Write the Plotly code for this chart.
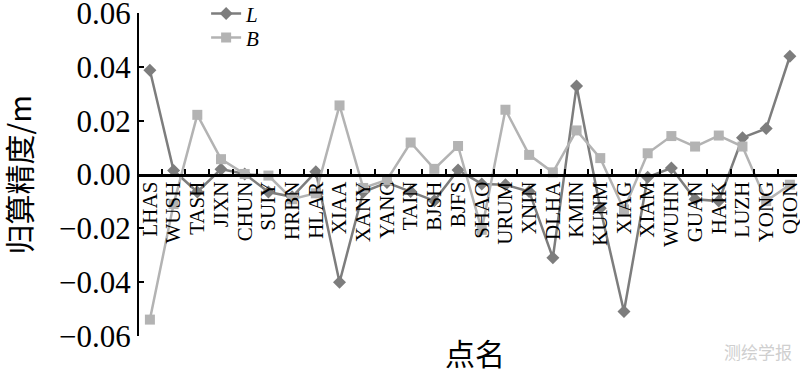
import plotly.graph_objects as go

stations = ["LHAS", "WUSH", "TASH", "JIXN", "CHUN", "SUIY", "HRBN", "HLAR", "XIAA", "XANY",
            "YANC", "TAIN", "BJSH", "BJFS", "SHAO", "URUM", "XNIN", "DLHA", "KMIN", "KUNM",
            "XIAG", "XIAM", "WUHN", "GUAN", "HAIK", "LUZH", "YONG", "QION"]
L_vals = [0.0388, 0.0015, -0.0065, 0.0020, 0.0002, -0.0065, -0.0083, 0.0010, -0.0401, -0.0065,
          -0.0030, -0.0063, -0.0098, 0.0017, -0.0035, -0.0038, -0.0063, -0.0310, 0.0329, -0.0126,
          -0.0510, -0.0010, 0.0024, -0.0092, -0.0099, 0.0137, 0.0171, 0.0440]
B_vals = [-0.0540, -0.0110, 0.0222, 0.0057, 0.0002, -0.0004, -0.0092, -0.0070, 0.0257, -0.0050,
          -0.0020, 0.0119, 0.0021, 0.0106, -0.0206, 0.0241, 0.0073, 0.0008, 0.0164, 0.0061,
          -0.0130, 0.0079, 0.0143, 0.0104, 0.0145, 0.0104, -0.0099, -0.0038]
y_ticks = [0.06, 0.04, 0.02, 0.0, -0.02, -0.04, -0.06]
y_ticklabels = ["0.06", "0.04", "0.02", "0.00", "\u22120.02", "\u22120.04", "\u22120.06"]

SERIF = "Liberation Serif"
CJK = "Noto Sans CJK SC"
L_COLOR = "#7d7d7d"
B_COLOR = "#b3b3b3"

fig = go.Figure()
fig.add_trace(go.Scatter(
    x=stations, y=L_vals, name="<i>L</i>", mode="lines+markers",
    line=dict(color=L_COLOR, width=2.5),
    marker=dict(symbol="diamond", size=10, color=L_COLOR),
    legend="legend",
))
fig.add_trace(go.Scatter(
    x=stations, y=B_vals, name="<i>B</i>", mode="lines+markers",
    line=dict(color=B_COLOR, width=2.5),
    marker=dict(symbol="square", size=10, color=B_COLOR),
    legend="legend2",
))

leg_common = dict(xanchor="left", yanchor="middle", bgcolor="rgba(0,0,0,0)",
                  font=dict(family=SERIF, size=21, color="black"), itemwidth=30)

fig.update_layout(
    template="none",
    width=800, height=372,
    margin=dict(l=139, r=3, t=13, b=36, autoexpand=False),
    paper_bgcolor="white", plot_bgcolor="white",
    font=dict(family=SERIF, color="black"),
    showlegend=True,
    legend=dict(x=0.102, y=0.997, **leg_common),
    legend2=dict(x=0.102, y=0.923, **leg_common),
    xaxis=dict(
        type="category", range=[-0.46, 27.3],
        anchor="free", position=0.5, automargin=False,
        tickmode="linear", tick0=0, dtick=1,
        showline=True, linecolor="black", linewidth=2.5,
        ticks="inside", tickson="boundaries", ticklen=5, tickwidth=2, tickcolor="black",
        tickangle=-90, tickfont=dict(family=SERIF, size=21, color="black"),
        ticklabelstandoff=-3, ticklabeloverflow="allow",
        showgrid=False, zeroline=False,
    ),
    yaxis=dict(
        range=[-0.0601, 0.0601], automargin=False,
        tickmode="array", tickvals=y_ticks, ticktext=y_ticklabels,
        showline=True, linecolor="black", linewidth=2,
        ticks="inside", ticklen=5, tickwidth=2, tickcolor="black",
        tickfont=dict(family=SERIF, size=31, color="black"),
        ticklabeloverflow="allow",
        showgrid=False, zeroline=False,
    ),
    annotations=[
        dict(text="归算精度/m", x=-0.184, y=0.5, xref="paper", yref="paper", showarrow=False,
             textangle=-90, font=dict(family=CJK, size=30, color="black"),
             xanchor="center", yanchor="middle"),
        dict(text="点名", x=0.51, y=-0.048, xref="paper", yref="paper", showarrow=False,
             font=dict(family=CJK, size=30, color="black"),
             xanchor="center", yanchor="middle"),
        dict(text="测绘学报", x=0.995, y=-0.048, xref="paper", yref="paper", showarrow=False,
             font=dict(family=CJK, size=17, color="#cfcfcf"),
             xanchor="right", yanchor="middle"),
    ],
)

fig.write_html("out.html", config={"displayModeBar": False},
               post_script="document.body.style.margin='0';")
